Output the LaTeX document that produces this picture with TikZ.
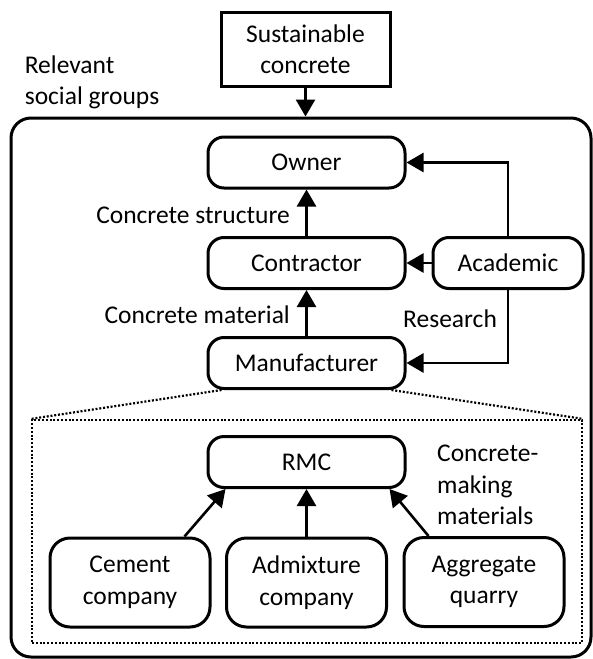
\documentclass[tikz,border=0pt]{standalone}
\usepackage{fontspec}
\setmainfont{Carlito}
\usetikzlibrary{arrows.meta,calc}
\begin{document}
\begin{tikzpicture}[x=1pt,y=-1pt,
  every node/.style={font=\fontsize{25.5}{31.5}\selectfont, inner sep=0pt},
  box/.style={draw, line width=3pt, rounded corners=16pt, minimum width=197pt, minimum height=51pt},
  bigbox/.style={draw, line width=3pt, rounded corners=20pt, minimum width=160pt, minimum height=89pt, align=center},
  arr/.style={line width=2.6pt, -{Triangle[length=17pt,width=19pt]}},
  dots/.style={line width=2.2pt, dash pattern=on 2pt off 1.8pt},
  lbl/.style={align=left}]
\useasboundingbox (0,0) rectangle (593,659);

\node[draw, line width=3pt, minimum width=169pt, minimum height=74pt, align=center] (sus) at (305.5,49) {Sustainable\\concrete};
\node[draw, line width=3pt, rounded corners=20pt, minimum width=580pt, minimum height=539pt] (grp) at (301,387.5) {};
\node[lbl, anchor=west] (rsg) at (24.6,82.5) {Relevant\\social groups};

\node[box] (own) at (306.5,162.5) {Owner};
\node[box] (con) at (306.5,263) {Contractor};
\node[box, minimum width=150pt] (aca) at (508,263) {Academic};
\node[box] (man) at (306.5,363) {Manufacturer};
\node[draw, dots, minimum width=550pt, minimum height=223pt] (sub) at (307,531.5) {};
\node[box] (rmc) at (306.5,462) {RMC};
\node[bigbox] (cem) at (130,582.5) {Cement\\company};
\node[bigbox] (adm) at (306.5,582.5) {Admixture\\company};
\node[bigbox] (agg) at (484,582) {Aggregate\\quarry};

\node[anchor=east] (lcs) at (290,215) {Concrete structure};
\node[anchor=east] (lcm) at (290,315) {Concrete material};
\node[anchor=west] (lre) at (403,319) {Research};
\node[lbl, anchor=west] (lcmm) at (437,485) {Concrete-\\making\\materials};

\draw[arr] (sus.south) -- (sus.south |- grp.north);
\draw[arr] (con.north) -- (own.south);
\draw[arr] (man.north) -- (con.south);
\draw[arr] (aca.west) -- (con.east);
\draw[arr] (aca.north) |- (own.east);
\draw[arr] (aca.south) |- (man.east);
\draw[arr] (adm.north) -- (rmc.south);
\draw[arr] ($(cem.north east)+(-27,0)$) -- ($(rmc.south west)+(19,0)$);
\draw[arr] ($(agg.north west)+(26,0)$) -- ($(rmc.south east)+(-17,0)$);
\draw[dots] ($(man.south west)+(15,0)$) -- (sub.north west);
\draw[dots] ($(man.south east)+(-15,0)$) -- (sub.north east);
\end{tikzpicture}
\end{document}
